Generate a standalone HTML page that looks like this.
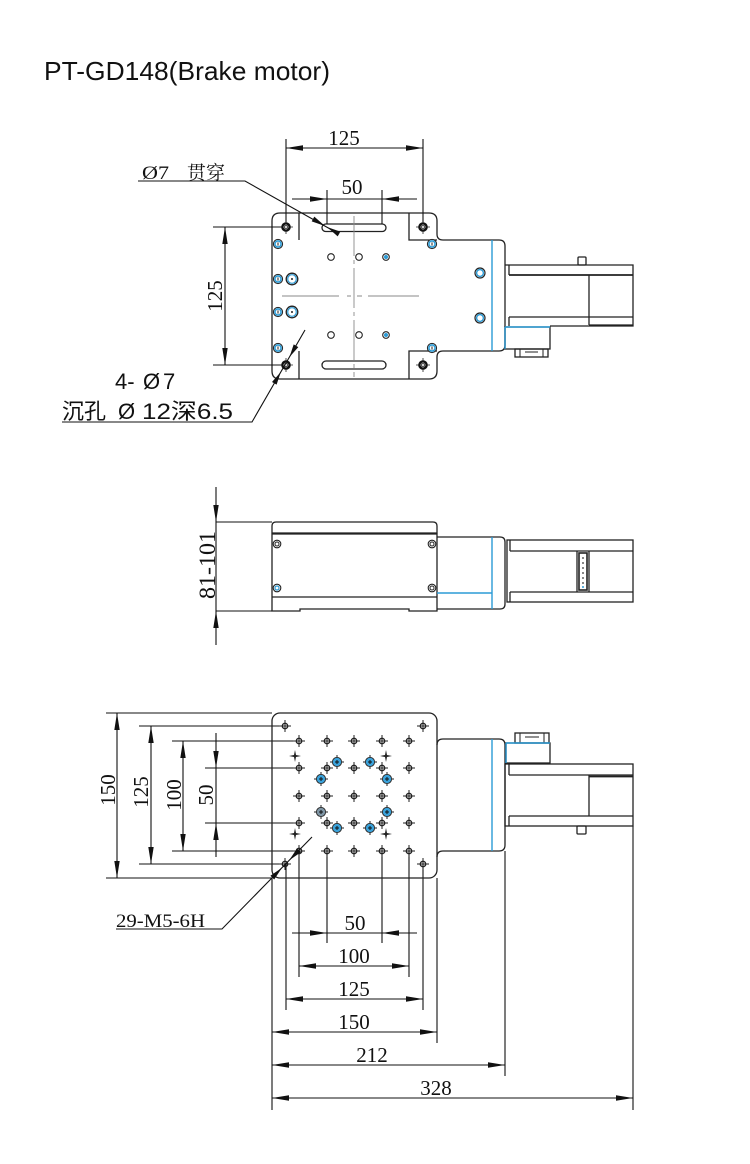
<!DOCTYPE html>
<html><head><meta charset="utf-8"><style>
html,body{margin:0;padding:0;background:#fff;}
svg{display:block;}
</style></head><body>
<svg width="750" height="1164" viewBox="0 0 750 1164" xmlns="http://www.w3.org/2000/svg">
<defs>
<marker id="ar" viewBox="0 -3 17 6" refX="17" refY="0" markerWidth="17" markerHeight="6" markerUnits="userSpaceOnUse" orient="auto-start-reverse"><path d="M0,-2.7L17,0L0,2.7Z" fill="#111"/></marker>
<g id="h"><path d="M-6,0H6M0,-6V6" stroke="#222" stroke-width="1" fill="none"/><circle r="2.7" fill="none" stroke="#222" stroke-width="1.4"/></g>
<path id="s" d="M0,-6L1,-1L6,0L1,1L0,6L-1,1L-6,0L-1,-1Z" fill="#222"/>
<g id="b"><path d="M-7,0H7M0,-7V7" stroke="#222" stroke-width="1"/><circle r="4.6" fill="#3aa3dc" stroke="#333" stroke-width="1"/><path d="M-2,0H2M0,-2V2" stroke="#111" stroke-width="1"/></g>
<g id="bg"><path d="M-7,0H7M0,-7V7" stroke="#222" stroke-width="1"/><circle r="4.6" fill="#7f96a6" stroke="#333" stroke-width="1"/><path d="M-2,0H2M0,-2V2" stroke="#111" stroke-width="1"/></g>
<g id="m"><path d="M-7,0H7M0,-7V7" stroke="#222" stroke-width="0.8"/><circle r="3.6" fill="#fff" stroke="#111" stroke-width="2.4"/><rect x="-1.3" y="-1.3" width="2.6" height="2.6" fill="none" stroke="#111" stroke-width="0.8"/></g>
<g id="r"><circle r="4.6" fill="#fff" stroke="#222" stroke-width="1"/><circle r="3.1" fill="none" stroke="#2b9bd6" stroke-width="1.6"/><path d="M0,-1.6V1.6" stroke="#222" stroke-width="1"/></g>
<g id="R"><circle r="5.8" fill="#fff" stroke="#222" stroke-width="1.3"/><circle r="4.3" fill="none" stroke="#2b9bd6" stroke-width="1.2"/><circle r="1" fill="#222"/></g>
<circle id="o" r="3.3" fill="#fff" stroke="#222" stroke-width="1.1"/>
<g id="ob"><circle r="3.3" fill="#fff" stroke="#222" stroke-width="1.1"/><circle r="2" fill="#2b9bd6"/></g>
<g id="sc"><circle r="3.8" fill="#fff" stroke="#222" stroke-width="1.1"/><circle r="2" fill="none" stroke="#222" stroke-width="1"/></g>
</defs>

<!-- TITLE -->
<text x="44" y="80" font-family="Liberation Sans, sans-serif" font-size="26" fill="#111" textLength="286" lengthAdjust="spacingAndGlyphs">PT-GD148(Brake motor)</text>

<!-- ================= TOP VIEW ================= -->
<g stroke="#222" stroke-width="1.3" fill="none">
  <path d="M280,213 H429 Q437,213 437,221 V234 Q437,240 443,240 H499 Q505,240 505,246 V345 Q505,351 499,351 H443 Q437,351 437,357 V371 Q437,379 429,379 H280 Q272,379 272,371 V221 Q272,213 280,213 Z"/>
  <path d="M299,213 V240 M299,351 V379 M409,213 V240 H437 M409,379 V351 H437"/>
  <rect x="322" y="224" width="64" height="7.5" rx="3.7" fill="#fff"/>
  <rect x="322" y="361" width="64" height="8" rx="4" fill="#fff"/>
  <path d="M505,265 H633 V326 H550"/>
  <path d="M509,275 H633" stroke-width="1.8"/>
  <path d="M509,265 V275 M509,317 V326 M509,317 H633 M589,325 H633 M589,275 V325"/>
  <rect x="578" y="257" width="8" height="8" rx="1"/>
  <rect x="505" y="327" width="45" height="22"/>
  <rect x="515" y="349" width="33" height="8"/>
  <path d="M520,349 V357 M543,349 V357 M525,352 H538" stroke-width="1"/>
</g>
<path d="M492,240 V351" stroke="#2b9bd6" stroke-width="1.4"/>
<path d="M505,327 H550 M505,327 V349" stroke="#2b9bd6" stroke-width="1.4"/>
<g stroke="#8a8a8a" stroke-width="0.9" fill="none">
  <path d="M354,216 V377" stroke-dasharray="40,4,4,4"/>
  <path d="M282,296 H339 M347,296 H351 M357,296 H362 M368,296 H419"/>
</g>
<use href="#m" x="286" y="227"/><use href="#m" x="423" y="227"/>
<use href="#m" x="286" y="365"/><use href="#m" x="423" y="365"/>
<use href="#r" x="278" y="244"/><use href="#r" x="278" y="279"/>
<use href="#r" x="278" y="312"/><use href="#r" x="278" y="348"/>
<use href="#r" x="432" y="244"/><use href="#r" x="432" y="348"/>
<use href="#R" x="292" y="279"/><use href="#R" x="292" y="312"/>
<use href="#o" x="331" y="257"/><use href="#o" x="359" y="257"/><use href="#ob" x="386" y="257"/>
<use href="#o" x="331" y="335"/><use href="#o" x="359" y="335"/><use href="#ob" x="386" y="335"/>
<g><circle cx="480" cy="273" r="5" fill="#fff" stroke="#222" stroke-width="1.2"/><circle cx="480" cy="273" r="3.4" fill="none" stroke="#2b9bd6" stroke-width="1.4"/></g>
<g><circle cx="480" cy="318" r="5" fill="#fff" stroke="#222" stroke-width="1.2"/><circle cx="480" cy="318" r="3.4" fill="none" stroke="#2b9bd6" stroke-width="1.4"/></g>

<g stroke="#111" stroke-width="1.1" fill="none">
  <path d="M286,139 V222 M423,139 V222"/>
  <line x1="286" y1="148" x2="423" y2="148" marker-start="url(#ar)" marker-end="url(#ar)"/>
  <path d="M327,190 V224 M382,190 V224 M292,199 H417"/>
  <path d="M213,227 H282 M213,365 H282"/>
  <line x1="225" y1="227" x2="225" y2="365" marker-start="url(#ar)" marker-end="url(#ar)"/>
  <path d="M138,181 H245 L339,234"/>
  <path d="M305,330 L252,422 H62"/>
</g>
<g fill="#111">
  <polygon points="327,199 310,196.3 310,201.7"/>
  <polygon points="382,199 399,196.3 399,201.7"/>
  <polygon points="325,226 311.7,221.4 314.3,216.6"/>
  <polygon points="327,227 337.7,236.4 340.3,231.6"/>
  <polygon points="289.5,357 298.3,347.1 293.7,344.4"/>
  <polygon points="280.8,372 276.6,384.6 272,382"/>
</g>
<g font-family="Liberation Serif, serif" font-size="21" fill="#111">
  <text x="344" y="145" text-anchor="middle">125</text>
  <text x="352" y="194" text-anchor="middle">50</text>
  <text transform="translate(222,296) rotate(-90)" text-anchor="middle">125</text>
</g>
<g fill="#111">
  <text x="142" y="179" font-family="Liberation Serif, serif" font-size="19" textLength="27" lengthAdjust="spacingAndGlyphs">Ø7</text>
  <text x="187" y="179" font-family="Liberation Serif, 'Noto Serif CJK SC', serif" font-size="19">贯穿</text>
  <text x="115" y="389" font-family="Liberation Sans, sans-serif" font-size="22">4-</text>
  <text x="143" y="389" font-family="Liberation Sans, sans-serif" font-size="22">Ø</text>
  <text x="163" y="389" font-family="Liberation Sans, sans-serif" font-size="22">7</text>
  <text x="62" y="419" font-family="Liberation Sans, 'Noto Sans CJK SC', sans-serif" font-size="22">沉孔</text>
  <text x="118" y="419" font-family="Liberation Sans, sans-serif" font-size="22">Ø</text>
  <text x="142" y="419" font-family="Liberation Sans, 'Noto Sans CJK SC', sans-serif" font-size="22" textLength="91" lengthAdjust="spacingAndGlyphs">12深6.5</text>
</g>

<!-- ================= SIDE VIEW ================= -->
<g stroke="#222" stroke-width="1.3" fill="none">
  <path d="M272,533 V526 Q272,522 276,522 H433 Q437,522 437,526 V533 Z"/>
  <path d="M272,534 H437 V611 H409 V609 H300 V611 H272 Z"/>
  <path d="M272,597 H437"/>
  <path d="M437,537 H500 Q505,537 505,542 V604 Q505,609 500,609 H437"/>
  <rect x="507" y="540" width="126" height="62"/>
  <path d="M510,551 H633 M510,592 H633 M510,540 V551 M510,592 V602 M577,551 V592 M589,551 V592"/>
  <rect x="579" y="553" width="8" height="37" stroke-width="1.6"/>
</g>
<g fill="#333">
  <circle cx="583" cy="558" r="0.9"/><circle cx="583" cy="563" r="0.9"/><circle cx="583" cy="568" r="0.9"/>
  <circle cx="583" cy="573" r="0.9"/><circle cx="583" cy="578" r="0.9"/><circle cx="583" cy="583" r="0.9"/>
  <circle cx="583" cy="587" r="1" fill="#2b9bd6"/>
</g>
<path d="M492,537 V609 M437,593 H492" stroke="#2b9bd6" stroke-width="1.4" fill="none"/>
<use href="#sc" x="277" y="544"/><use href="#sc" x="432" y="544"/>
<g><circle cx="277" cy="588" r="3.8" fill="#fff" stroke="#222" stroke-width="1.1"/><circle cx="277" cy="588" r="2" fill="none" stroke="#2b9bd6" stroke-width="1.2"/></g>
<use href="#sc" x="432" y="588"/>
<g stroke="#111" stroke-width="1.1" fill="none">
  <path d="M216,487 V645 M216,522 H272 M216,611 H272"/>
</g>
<g fill="#111">
  <polygon points="216,522 213.3,505 218.7,505"/>
  <polygon points="216,611 213.3,628 218.7,628"/>
</g>
<text transform="translate(215,565) rotate(-90)" text-anchor="middle" font-family="Liberation Serif, serif" font-size="23" fill="#111" textLength="68" lengthAdjust="spacingAndGlyphs">81-101</text>

<!-- ================= BOTTOM VIEW ================= -->
<g stroke="#111" stroke-width="1.1" fill="none">
  <path d="M106,713 H272 M106,878 H272"/>
  <path d="M139,726 H285 M139,864 H285"/>
  <path d="M172,741 H299 M172,851 H299"/>
  <path d="M205,768 H299 M205,823 H299"/>
  <path d="M272,878 V1110 M286,864 V1010 M299,851 V977 M327,851 V943 M382,851 V943 M409,851 V977 M423,864 V1010 M437,878 V1043 M505,851 V1076 M633,826 V1110"/>
</g>
<g stroke="#222" stroke-width="1.3" fill="none">
  <rect x="272" y="713" width="165" height="165" rx="8"/>
  <path d="M437,745 Q437,739 443,739 H499 Q505,739 505,745 V845 Q505,851 499,851 H443 Q437,851 437,857"/>
  <rect x="505" y="764" width="128" height="62"/>
  <path d="M509,775 H633 M509,764 V775 M509,816 H633 M509,816 V826 M589,775 V816"/>
  <path d="M589,776.5 H633" stroke-width="1.8"/>
  <rect x="577" y="826" width="9" height="8" rx="1"/>
  <rect x="506" y="743" width="44" height="20"/>
  <rect x="515" y="733" width="34" height="10"/>
  <path d="M520,733 V743 M544,733 V743 M525,737 H539" stroke-width="1"/>
</g>
<path d="M492,739 V851" stroke="#2b9bd6" stroke-width="1.4" fill="none"/>
<path d="M506,743 H550 M506,743 V763" stroke="#2b9bd6" stroke-width="1.4" fill="none"/>
<use href="#h" x="285" y="726"/><use href="#h" x="423" y="726"/><use href="#h" x="285" y="864"/><use href="#h" x="423" y="864"/>
<use href="#h" x="299" y="741"/><use href="#h" x="327" y="741"/><use href="#h" x="354" y="741"/><use href="#h" x="382" y="741"/><use href="#h" x="409" y="741"/>
<use href="#h" x="299" y="768"/><use href="#h" x="327" y="768"/><use href="#h" x="354" y="768"/><use href="#h" x="382" y="768"/><use href="#h" x="409" y="768"/>
<use href="#h" x="299" y="796"/><use href="#h" x="327" y="796"/><use href="#h" x="354" y="796"/><use href="#h" x="382" y="796"/><use href="#h" x="409" y="796"/>
<use href="#h" x="299" y="823"/><use href="#h" x="327" y="823"/><use href="#h" x="354" y="823"/><use href="#h" x="382" y="823"/><use href="#h" x="409" y="823"/>
<use href="#h" x="299" y="851"/><use href="#h" x="327" y="851"/><use href="#h" x="354" y="851"/><use href="#h" x="382" y="851"/><use href="#h" x="409" y="851"/>
<use href="#s" x="295" y="756"/><use href="#s" x="386" y="756"/><use href="#s" x="295" y="834"/><use href="#s" x="386" y="834"/>
<use href="#b" x="337" y="762"/><use href="#b" x="370" y="762"/>
<use href="#b" x="321" y="779"/><use href="#b" x="387" y="779"/>
<use href="#bg" x="321" y="812"/><use href="#b" x="387" y="812"/>
<use href="#b" x="337" y="828"/><use href="#b" x="370" y="828"/>
<g stroke="#111" stroke-width="1.1" fill="none">
  <line x1="117" y1="713" x2="117" y2="878" marker-start="url(#ar)" marker-end="url(#ar)"/>
  <line x1="151" y1="726" x2="151" y2="864" marker-start="url(#ar)" marker-end="url(#ar)"/>
  <line x1="183" y1="741" x2="183" y2="851" marker-start="url(#ar)" marker-end="url(#ar)"/>
  <path d="M216,733 V857"/>
  <path d="M292,933 H417"/>
  <line x1="299" y1="966" x2="409" y2="966" marker-start="url(#ar)" marker-end="url(#ar)"/>
  <line x1="286" y1="999" x2="423" y2="999" marker-start="url(#ar)" marker-end="url(#ar)"/>
  <line x1="272" y1="1032" x2="437" y2="1032" marker-start="url(#ar)" marker-end="url(#ar)"/>
  <line x1="272" y1="1065" x2="505" y2="1065" marker-start="url(#ar)" marker-end="url(#ar)"/>
  <line x1="272" y1="1098" x2="633" y2="1098" marker-start="url(#ar)" marker-end="url(#ar)"/>
  <path d="M116,929 H222 L312,837"/>
</g>
<g fill="#111">
  <polygon points="216,768 213.3,751 218.7,751"/>
  <polygon points="216,823 213.3,840 218.7,840"/>
  <polygon points="327,933 310,930.3 310,935.7"/>
  <polygon points="382,933 399,930.3 399,935.7"/>
  <polygon points="282.1,867.6 274.2,879.5 270.4,875.7"/>
  <polygon points="289.1,860.4 300.8,852.3 297,848.5"/>
</g>
<g font-family="Liberation Serif, serif" font-size="21" fill="#111">
  <text transform="translate(115,790) rotate(-90)" text-anchor="middle">150</text>
  <text transform="translate(148,792) rotate(-90)" text-anchor="middle">125</text>
  <text transform="translate(181,795) rotate(-90)" text-anchor="middle">100</text>
  <text transform="translate(213,795) rotate(-90)" text-anchor="middle">50</text>
  <text x="355" y="930" text-anchor="middle">50</text>
  <text x="354" y="963" text-anchor="middle">100</text>
  <text x="354" y="996" text-anchor="middle">125</text>
  <text x="354" y="1029" text-anchor="middle">150</text>
  <text x="372" y="1062" text-anchor="middle">212</text>
  <text x="436" y="1095" text-anchor="middle">328</text>
  <text x="116" y="927" font-size="19" textLength="89" lengthAdjust="spacingAndGlyphs">29-M5-6H</text>
</g>
</svg>
</body></html>
